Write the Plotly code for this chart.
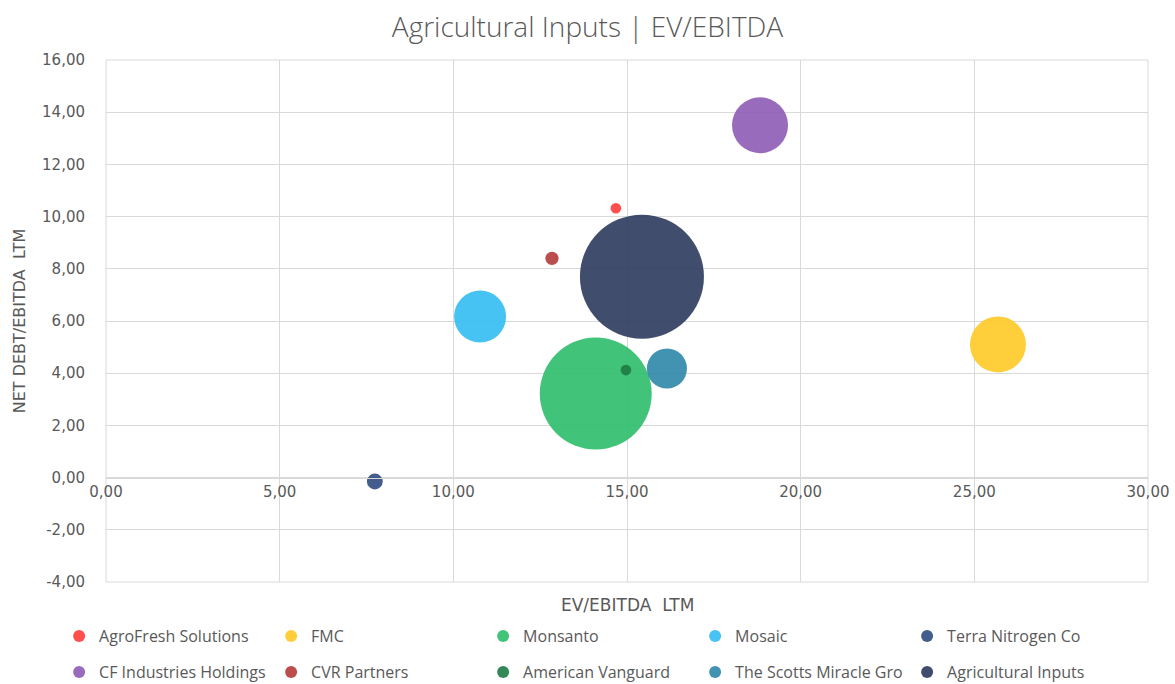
import plotly.graph_objects as go

companies = ["AgroFresh Solutions", "FMC", "Monsanto", "Mosaic", "Terra Nitrogen Co",
             "CF Industries Holdings", "CVR Partners", "American Vanguard",
             "The Scotts Miracle Gro", "Agricultural Inputs"]
ev_ebitda = [14.68, 25.68, 14.10, 10.77, 7.74, 18.83, 12.84, 14.97, 16.15, 15.43]
net_debt_ebitda = [10.32, 5.10, 3.22, 6.17, -0.15, 13.50, 8.40, 4.12, 4.18, 7.70]
bubble_size = [0.45, 12.5, 50.0, 10.8, 1.0, 12.5, 0.7, 0.45, 6.4, 61.3]
colors = ["#FF3B3B", "#FFC926", "#2EBD6B", "#33BDF2", "#2F4B80",
          "#8E5BB5", "#B23A3A", "#1E7A44", "#2E86A8", "#2B3A5C"]

x_ticks = [0, 5, 10, 15, 20, 25, 30]
y_ticks = [-4, -2, 0, 2, 4, 6, 8, 10, 12, 14, 16]


def fmt(v):
    return f"{v:.2f}".replace(".", ",")


sizeref = 2.0 * max(bubble_size) / (124.0 ** 2)

fig = go.Figure()
for i, name in enumerate(companies):
    fig.add_trace(go.Scatter(
        x=[ev_ebitda[i]], y=[net_debt_ebitda[i]], mode="markers", name=name,
        marker=dict(size=[bubble_size[i]], sizemode="area", sizeref=sizeref,
                    color=colors[i], opacity=0.9, line=dict(width=0)),
        legend="legend" if i < 5 else "legend2",
    ))

tick_font = "DejaVu Sans"
grid = "#D9D9D9"
txt = "#595959"

legend_common = dict(orientation="h", x=-0.045, xanchor="left", yanchor="top",
                     entrywidth=167, entrywidthmode="pixels", itemsizing="constant",
                     font=dict(family="Open Sans", size=16, color=txt),
                     bgcolor="rgba(0,0,0,0)", itemwidth=30)

fig.update_layout(
    width=1175, height=684,
    margin=dict(l=106, r=27, t=60, b=102, autoexpand=False),
    paper_bgcolor="white", plot_bgcolor="white",
    font=dict(family=tick_font, size=15, color=txt),
    title=dict(text="Agricultural Inputs | EV/EBITDA", x=0.5, xanchor="center",
               y=0.96, yanchor="middle",
               font=dict(family="Open Sans", size=28, color=txt, weight=300)),
    xaxis=dict(range=[0, 30], tickvals=x_ticks, ticktext=[fmt(v) for v in x_ticks],
               showgrid=True, gridcolor=grid, gridwidth=1, zeroline=False, showline=True,
               linecolor=grid, anchor="free", position=0.2, ticks="",
               automargin=False, tickfont=dict(family=tick_font, size=15, color=txt)),
    yaxis=dict(range=[-4, 16], tickvals=y_ticks, ticktext=[fmt(v) for v in y_ticks],
               showgrid=True, gridcolor=grid, gridwidth=1, zeroline=False, showline=False,
               ticks="", automargin=False, ticklabelstandoff=20,
               tickfont=dict(family=tick_font, size=15, color=txt),
               title=dict(text="NET DEBT/EBITDA  LTM",
                          font=dict(family=tick_font, size=16, color=txt), standoff=12)),
    legend=dict(legend_common, y=-0.071),
    legend2=dict(legend_common, y=-0.140),
    annotations=[dict(text="EV/EBITDA  LTM", xref="paper", yref="paper", x=0.5, y=-0.022,
                      xanchor="center", yanchor="top", showarrow=False,
                      font=dict(family=tick_font, size=17, color=txt))],
)

fig.add_shape(type="rect", xref="paper", yref="paper", x0=0, y0=0, x1=1, y1=1,
              line=dict(color=grid, width=1), layer="below")

fig.write_html("out.html", config={"displayModeBar": False},
               post_script="document.body.style.margin='0';document.body.style.overflow='hidden';")
